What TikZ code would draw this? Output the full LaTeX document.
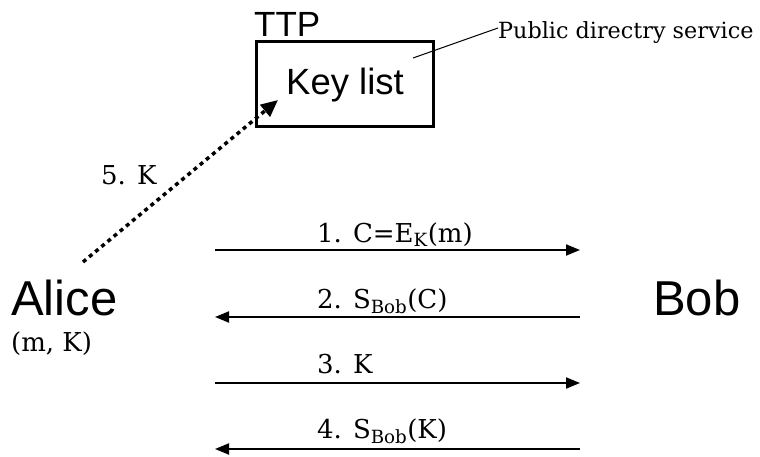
\documentclass[tikz,border=0pt]{standalone}
\usepackage{fontspec}
\setmainfont{DejaVu Serif}
\newfontfamily\sansfont{Liberation Sans}
\usetikzlibrary{arrows.meta}
\tikzset{
  party/.style={inner sep=0pt, anchor=base west, font=\sansfont\fontsize{49}{49}\selectfont},
  msg/.style={inner sep=0pt, anchor=base west, font=\fontsize{26}{26}\selectfont},
  flow/.style={line width=2pt, -{Triangle[length=14pt,width=11pt]}},
  keyflow/.style={line width=3.5pt, dash pattern=on 4pt off 4pt, -{Triangle[length=17pt,width=15pt]}},
}
\begin{document}
\begin{tikzpicture}[x=1pt,y=-1pt]
\useasboundingbox (0,0) rectangle (760,457);

% trusted third party with its public key list
\node[draw, line width=2.6pt, minimum width=177pt, minimum height=85pt, anchor=north west, inner sep=0pt] (ttp) at (255,40) {};
\node[inner sep=0pt, anchor=base west, font=\sansfont\fontsize{35}{35}\selectfont] (ttplabel) at (254,37) {TTP};
\node[inner sep=0pt, anchor=base west, font=\sansfont\fontsize{36.5}{36.5}\selectfont] (keys) at (286,95) {Key list};
\node[inner sep=0pt, anchor=base west, font=\fontsize{22.3}{22.3}\selectfont] (pds) at (498,39) {Public directry service};
\coordinate (pdsfoot) at (413,58);
\draw[line width=1pt] (pdsfoot) -- (pds.west |- 0,28);

% the two parties
\node[party] (alice) at (11,315) {Alice};
\node[msg] (alicedata) at (11,351) {(m, K)};
\node[party] (bob) at (653,315) {Bob};

% protocol messages
\coordinate (l1) at (215,250); \coordinate (r1) at (580,250);
\coordinate (l2) at (215,317); \coordinate (r2) at (580,317);
\coordinate (l3) at (215,383); \coordinate (r3) at (580,383);
\coordinate (l4) at (215,449); \coordinate (r4) at (580,449);
\draw[flow] (l1) -- (r1);
\draw[flow] (r2) -- (l2);
\draw[flow] (l3) -- (r3);
\draw[flow] (r4) -- (l4);
\node[msg] (m1) at (317,242) {1. C=E\textsubscript{K}(m)};
\node[msg] (m2) at (317,308) {2. S\textsubscript{Bob}(C)};
\node[msg] (m3) at (317,373) {3. K};
\node[msg] (m4) at (317,438) {4. S\textsubscript{Bob}(K)};

% key deposited at the TTP
\coordinate (kstart) at (83,262);
\coordinate (kend) at (278,100);
\draw[keyflow] (kstart) -- (kend);
\node[msg] (m5) at (101,185) {5. K};
\end{tikzpicture}
\end{document}
